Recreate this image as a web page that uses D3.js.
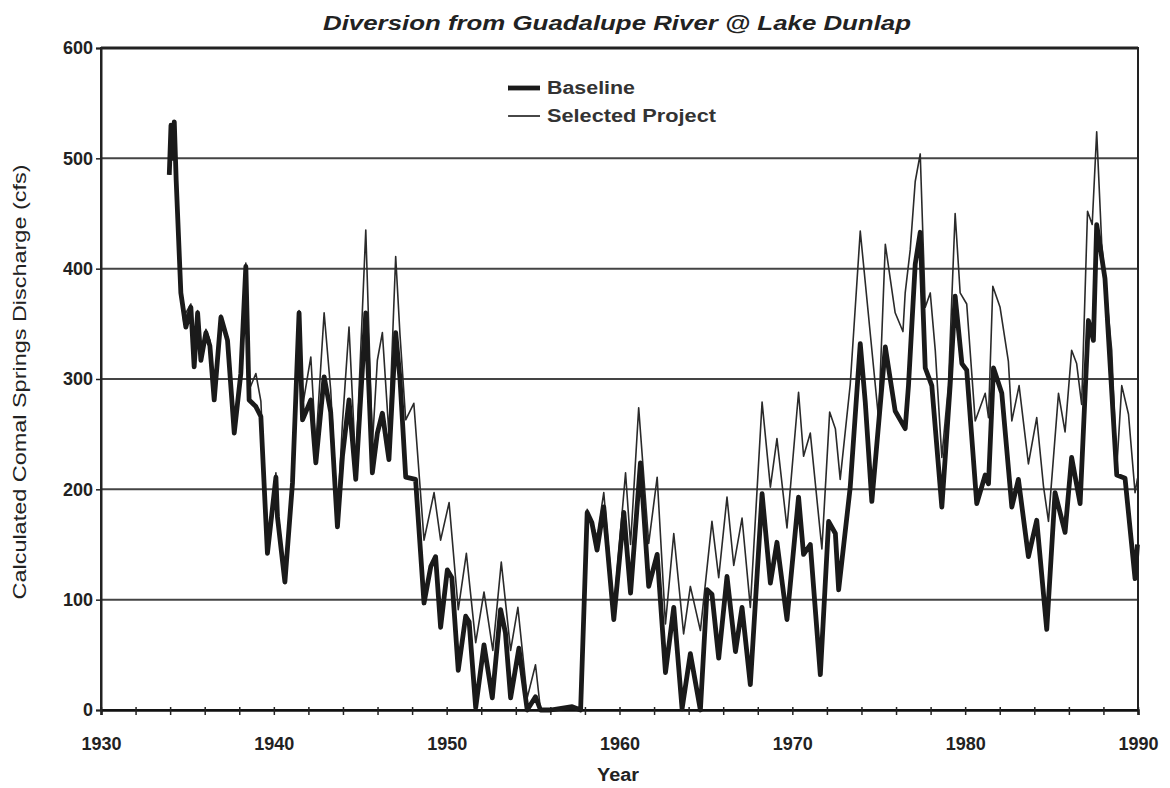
<!DOCTYPE html>
<html><head><meta charset="utf-8">
<script src="https://cdn.jsdelivr.net/npm/d3@7"></script>
<style>html,body{margin:0;padding:0;background:#fff;}svg{display:block;}</style>
</head><body>
<svg id="chart" width="1170" height="788"></svg>
<script>
const titleText = "Diversion from Guadalupe River @ Lake Dunlap";
const yAxisTitle = "Calculated Comal Springs Discharge (cfs)";
const xAxisTitle = "Year";
const seriesNames = ["Baseline", "Selected Project"];
const yTicks = [0, 100, 200, 300, 400, 500, 600];
const xLabelTicks = [1930, 1940, 1950, 1960, 1970, 1980, 1990];

const baseYears = [1933.95,1934.05,1934.15,1934.24,1934.35,1934.62,1934.91,1935.2,1935.39,1935.59,1935.78,1936.07,1936.3,1936.55,1936.94,1937.32,1937.71,1938.09,1938.38,1938.57,1938.96,1939.25,1939.63,1940.12,1940.21,1940.64,1941.08,1941.46,1941.66,1942.14,1942.43,1942.91,1943.29,1943.68,1943.97,1944.35,1944.74,1945.32,1945.7,1945.99,1946.28,1946.66,1947.05,1947.3,1947.63,1948.2,1948.69,1949.08,1949.36,1949.65,1950.04,1950.3,1950.67,1951.1,1951.3,1951.68,1952.16,1952.64,1953.12,1953.4,1953.7,1954.18,1954.66,1955.14,1955.43,1956.0,1957.26,1957.75,1958.13,1958.4,1958.7,1959.09,1959.67,1960.25,1960.64,1961.21,1961.69,1962.18,1962.66,1963.14,1963.62,1964.1,1964.68,1965.07,1965.35,1965.74,1966.22,1966.71,1967.09,1967.57,1968.25,1968.73,1969.11,1969.69,1970.36,1970.65,1971.04,1971.62,1972.1,1972.49,1972.68,1973.35,1973.93,1974.22,1974.6,1975.38,1975.95,1976.53,1976.72,1977.11,1977.4,1977.69,1978.07,1978.65,1979.13,1979.42,1979.81,1980.09,1980.67,1981.16,1981.35,1981.64,1982.12,1982.7,1983.08,1983.66,1984.14,1984.72,1985.2,1985.78,1986.16,1986.65,1987.13,1987.42,1987.61,1988.09,1988.77,1989.25,1989.83,1989.97];
const baseValues = [485,530,500,533,480,378,347,365,311,360,317,342,330,281,356,335,251,305,402,281,275,266,142,211,175,116,206,360,263,281,224,302,270,166,230,281,209,360,215,251,269,227,342,300,211,209,97,130,139,75,127,120,36,85,80,2,59,11,91,70,11,56,0,12,0,0,3,0,179,170,145,184,82,179,106,224,112,141,34,93,1,51,0,109,105,47,121,53,93,23,196,115,152,82,193,141,150,32,171,160,109,202,332,279,189,329,271,255,294,404,433,310,294,184,294,375,314,308,187,213,205,310,287,184,209,139,172,73,197,161,229,187,353,335,440,391,213,210,119,150];

const projYears = [1933.95,1934.05,1934.15,1934.24,1934.35,1934.62,1934.8,1934.91,1935.2,1935.39,1935.59,1935.78,1936.07,1936.3,1936.55,1936.94,1937.32,1937.71,1938.09,1938.38,1938.57,1938.96,1939.25,1939.63,1940.12,1940.21,1940.64,1941.08,1941.46,1941.66,1942.14,1942.43,1942.91,1943.29,1943.68,1943.97,1944.35,1944.74,1945.32,1945.7,1945.99,1946.28,1946.66,1947.05,1947.3,1947.63,1948.1,1948.69,1949.27,1949.65,1950.14,1950.67,1951.14,1951.68,1952.16,1952.67,1953.16,1953.7,1954.12,1954.66,1955.14,1955.43,1956.0,1957.26,1957.75,1958.13,1958.7,1959.09,1959.67,1960.35,1960.64,1961.11,1961.69,1962.18,1962.66,1963.14,1963.71,1964.1,1964.68,1965.35,1965.74,1966.22,1966.61,1967.09,1967.57,1968.25,1968.73,1969.11,1969.69,1970.36,1970.65,1971.04,1971.71,1972.16,1972.49,1972.77,1973.35,1973.93,1974.51,1974.99,1975.38,1975.95,1976.4,1976.53,1976.82,1977.11,1977.4,1977.69,1977.98,1978.27,1978.65,1979.03,1979.42,1979.71,1980.09,1980.58,1981.16,1981.35,1981.6,1982.02,1982.5,1982.7,1983.12,1983.66,1984.14,1984.53,1984.82,1985.4,1985.78,1986.16,1986.45,1986.74,1987.08,1987.35,1987.61,1987.9,1988.48,1988.77,1989.06,1989.45,1989.83,1989.97];
const projValues = [485,530,505,533,485,380,350,360,368,315,362,320,345,335,285,358,338,255,308,405,290,305,280,148,215,185,118,210,362,275,320,240,360,290,175,260,347,220,435,240,317,342,250,411,340,263,278,154,197,154,188,91,142,61,107,54,134,54,93,11,41,0,0,3,0,182,157,197,91,215,150,274,151,211,78,160,69,112,72,171,120,193,131,174,93,279,202,246,165,288,230,251,146,270,255,209,295,434,341,264,422,360,343,378,417,479,504,365,378,326,229,294,450,378,368,262,287,265,384,365,316,262,294,223,265,203,171,287,252,326,314,277,452,440,524,423,326,219,294,268,197,210];

const svg = d3.select("#chart");
const x = d3.scaleLinear().domain([1930, 1990]).range([101, 1138]);
const y = d3.scaleLinear().domain([0, 600]).range([710, 48]);
const FONT = "Liberation Sans, Arial, sans-serif";

// gridlines
svg.append("g").selectAll("line").data(yTicks.filter(v => v > 0 && v < 600)).join("line")
  .attr("x1", x(1930)).attr("x2", x(1990))
  .attr("y1", d => y(d)).attr("y2", d => y(d))
  .attr("stroke", "#444").attr("stroke-width", 2);

// frame
svg.append("rect").attr("x", x(1930)).attr("y", y(600))
  .attr("width", x(1990) - x(1930)).attr("height", y(0) - y(600))
  .attr("fill", "none").attr("stroke", "#222").attr("stroke-width", 2);
svg.append("line").attr("x1", x(1930)).attr("x2", x(1990)).attr("y1", y(600)).attr("y2", y(600))
  .attr("stroke", "#222").attr("stroke-width", 3);

// x axis
const xAxis = d3.axisBottom(x).tickValues(d3.range(1930, 1991, 2)).tickSize(5).tickFormat(d => xLabelTicks.includes(d) ? d : "");
const gx = svg.append("g").attr("transform", `translate(0,${y(0)})`).call(xAxis);
gx.select(".domain").attr("stroke", "#111").attr("stroke-width", 2.5);
gx.selectAll(".tick line").attr("stroke", "#222").attr("stroke-width", 1.5).attr("y1", -3);
gx.selectAll(".tick text").attr("font-family", FONT).attr("font-size", 18).attr("font-weight", "bold").attr("fill", "#222").attr("y", 27).attr("dy", "0.71em");

// y axis
const yAxis = d3.axisLeft(y).tickValues(yTicks).tickSize(5).tickFormat(d3.format("d"));
const gy = svg.append("g").attr("transform", `translate(${x(1930)},0)`).call(yAxis);
gy.select(".domain").attr("stroke", "#222").attr("stroke-width", 2);
gy.selectAll(".tick line").attr("stroke", "#222").attr("stroke-width", 1.5);
gy.selectAll(".tick text").attr("font-family", FONT).attr("font-size", 18).attr("font-weight", "bold").attr("fill", "#222").attr("x", -8);

// lines
const projData = projYears.map((t, i) => [t, projValues[i]]);
const baseData = baseYears.map((t, i) => [t, baseValues[i]]);
const line = d3.line().x(d => x(d[0])).y(d => y(d[1]));

svg.append("path").datum(projData).attr("d", line)
  .attr("fill", "none").attr("stroke", "#2a2a2a").attr("stroke-width", 1.6).attr("stroke-linejoin", "round");
svg.append("path").datum(baseData).attr("d", line)
  .attr("fill", "none").attr("stroke", "#1a1a1a").attr("stroke-width", 4.8).attr("stroke-linejoin", "round");

// title
svg.append("text").attr("x", 617).attr("y", 30).attr("text-anchor", "middle")
  .attr("font-family", FONT).attr("font-size", 21)
  .attr("font-weight", "bold").attr("font-style", "italic").attr("fill", "#222")
  .attr("textLength", 588).attr("lengthAdjust", "spacingAndGlyphs")
  .text(titleText);

// y axis title
svg.append("text").attr("transform", `translate(26,${(y(0)+y(600))/2 + 3}) rotate(-90)`)
  .attr("text-anchor", "middle")
  .attr("font-family", FONT).attr("font-size", 18)
  .attr("fill", "#222").attr("textLength", 435).attr("lengthAdjust", "spacingAndGlyphs")
  .text(yAxisTitle);

// x axis title
svg.append("text").attr("x", 618).attr("y", 781).attr("text-anchor", "middle")
  .attr("font-family", FONT).attr("font-size", 18)
  .attr("font-weight", "bold").attr("fill", "#222")
  .attr("textLength", 42).attr("lengthAdjust", "spacingAndGlyphs")
  .text(xAxisTitle);

// legend
const legend = svg.append("g");
const legendWidths = [4.8, 1.6];
const legendTextLen = [88, 169];
seriesNames.forEach((name, i) => {
  const ly = 88 + i * 28;
  legend.append("line").attr("x1", 508).attr("x2", 540).attr("y1", ly).attr("y2", ly)
    .attr("stroke", "#1a1a1a").attr("stroke-width", legendWidths[i]);
  legend.append("text").attr("x", 547).attr("y", ly + 6)
    .attr("font-family", FONT).attr("font-size", 18)
    .attr("font-weight", "bold").attr("fill", "#333")
    .attr("textLength", legendTextLen[i]).attr("lengthAdjust", "spacingAndGlyphs")
    .text(name);
});
</script>
</body></html>
